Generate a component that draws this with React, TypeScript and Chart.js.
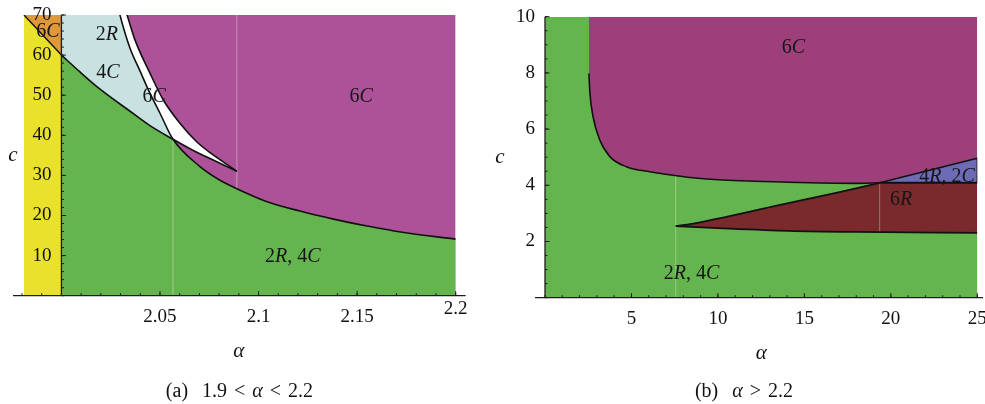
import React, { useEffect, useRef } from "react";
import { Chart, registerables } from "chart.js";

Chart.register(...registerables);

const FONT = '"Liberation Serif", "Times New Roman", serif';

// ---------- colours ----------
const C_YELLOW = "#EAE12A";
const C_ORANGE = "#E0993A";
const C_LIGHTBLUE = "#C8E2E2";
const C_GREEN = "#65B54E";
const C_PURPLE_A = "#AD5298";
const C_PURPLE_B = "#9D3F7A";
const C_DARKRED = "#7A292C";
const C_BLUE = "#6E6BB6";
const C_WHITE = "#FFFFFF";
const C_LINE = "#111111";
const C_AXIS = "#1c1c1c";
const C_SEAM = "rgba(255,255,255,0.35)";

// ---------- panel (a): 1.9 < alpha < 2.2 ----------
const aXTicks = [2.05, 2.1, 2.15, 2.2];
const aXTickLabels = ["2.05", "2.1", "2.15", "2.2"];
const aYTicks = [10, 20, 30, 40, 50, 60, 70];
const aYTickLabels = ["10", "20", "30", "40", "50", "60", "70"];

const aOrangeTop = [{ x: 1.981, y: 70 }, { x: 2.0, y: 70 }];
const aYellowTop = [{ x: 1.981, y: 70 }, { x: 2.0, y: 60 }];
const aPurpleTop = [{ x: 2.0, y: 70 }, { x: 2.2, y: 70 }];
// boundary P: white band (left edge) and then the green / 6C boundary
const aCurveP = [
  { x: 2.0, y: 95 }, { x: 2.026, y: 78 }, { x: 2.0297, y: 70 }, { x: 2.0348, y: 61.7 },
  { x: 2.0399, y: 56.0 }, { x: 2.0449, y: 50.5 }, { x: 2.05, y: 45.5 }, { x: 2.0566, y: 39.0 },
  { x: 2.0703, y: 32.2 }, { x: 2.0804, y: 28.8 }, { x: 2.0889, y: 26.7 }, { x: 2.104, y: 23.5 },
  { x: 2.121, y: 21.1 }, { x: 2.138, y: 19.1 }, { x: 2.155, y: 17.4 }, { x: 2.172, y: 15.9 },
  { x: 2.2, y: 14.1 },
];
// boundary Q: green / 4C boundary and lower edge of the white sliver
const aCurveQ = [
  { x: 2.0, y: 60 }, { x: 2.0094, y: 55.8 }, { x: 2.0196, y: 51.5 }, { x: 2.0348, y: 46.0 },
  { x: 2.0449, y: 42.4 }, { x: 2.0566, y: 39.0 }, { x: 2.0669, y: 36.2 }, { x: 2.0788, y: 33.4 },
  { x: 2.089, y: 31.0 },
];
// boundary R: right edge of the white band
const aCurveR = [
  { x: 2.028, y: 78 }, { x: 2.0333, y: 70 }, { x: 2.0373, y: 63.8 }, { x: 2.0449, y: 55.5 },
  { x: 2.0517, y: 48.8 }, { x: 2.0601, y: 43.0 }, { x: 2.0686, y: 38.4 }, { x: 2.077, y: 35.1 },
  { x: 2.0855, y: 32.2 }, { x: 2.089, y: 31.0 },
];
const aSeam1 = [{ x: 2.0566, y: 0 }, { x: 2.0566, y: 39.0 }];
const aSeam2 = [{ x: 2.089, y: 26.7 }, { x: 2.089, y: 70 }];
const aRegionLabels = [
  { text: "6C", x: 1.9932, y: 65.8 },
  { text: "2R", x: 2.0231, y: 65.0 },
  { text: "4C", x: 2.0236, y: 55.5 },
  { text: "6C", x: 2.047, y: 49.6 },
  { text: "6C", x: 2.152, y: 49.6 },
  { text: "2R, 4C", x: 2.1174, y: 9.65 },
];

// ---------- panel (b): alpha > 2.2 ----------
const bXTicks = [5, 10, 15, 20, 25];
const bXTickLabels = ["5", "10", "15", "20", "25"];
const bYTicks = [2, 4, 6, 8, 10];
const bYTickLabels = ["2", "4", "6", "8", "10"];

const bGreenTop = [{ x: 0, y: 10 }, { x: 25, y: 10 }];
const bCurveU = [
  { x: 2.54, y: 7.98 }, { x: 2.6, y: 7.27 }, { x: 2.78, y: 6.44 }, { x: 3.17, y: 5.61 },
  { x: 3.75, y: 5.02 }, { x: 4.71, y: 4.66 }, { x: 6.06, y: 4.48 }, { x: 7.6, y: 4.34 },
  { x: 8.4, y: 4.28 }, { x: 10.3, y: 4.19 }, { x: 14.1, y: 4.11 }, { x: 18.0, y: 4.07 },
  { x: 19.36, y: 4.09 },
];
const bLineW = [{ x: 19.36, y: 4.09 }, { x: 25, y: 4.96 }];
const bLineH = [{ x: 19.36, y: 4.09 }, { x: 25, y: 4.09 }];
const bCurveUp = [
  { x: 7.56, y: 2.55 }, { x: 8.5, y: 2.63 }, { x: 10.3, y: 2.85 }, { x: 13.2, y: 3.25 },
  { x: 16.9, y: 3.74 }, { x: 19.36, y: 4.09 },
];
const bCurveLo = [
  { x: 7.56, y: 2.55 }, { x: 10.3, y: 2.47 }, { x: 14.1, y: 2.38 }, { x: 18.0, y: 2.34 },
  { x: 25, y: 2.31 },
];
const bEdge = [{ x: 25, y: 4.09 }, { x: 25, y: 4.96 }];
const bSeam1 = [{ x: 7.56, y: 0 }, { x: 7.56, y: 4.34 }];
const bSeam2 = [{ x: 19.36, y: 2.31 }, { x: 19.36, y: 4.09 }];
const bRegionLabels = [
  { text: "6C", x: 14.37, y: 8.89 },
  { text: "4R, 2C", x: 23.25, y: 4.3 },
  { text: "6R", x: 20.6, y: 3.48 },
  { text: "2R, 4C", x: 8.48, y: 0.84 },
];

// ---------- dataset helpers ----------
type Pt = { x: number; y: number };

function areaDs(data: Pt[], fill: any, color: string, smooth = true) {
  return {
    data,
    fill,
    backgroundColor: color,
    borderColor: "rgba(0,0,0,0)",
    borderWidth: 0,
    pointRadius: 0,
    pointHoverRadius: 0,
    cubicInterpolationMode: smooth ? "monotone" : "default",
    tension: 0,
  };
}
function strokeDs(data: Pt[], color = C_LINE, width = 1.6, smooth = true) {
  return {
    data,
    fill: false,
    backgroundColor: "rgba(0,0,0,0)",
    borderColor: color,
    borderWidth: width,
    pointRadius: 0,
    pointHoverRadius: 0,
    cubicInterpolationMode: smooth ? "monotone" : "default",
    tension: 0,
  };
}
function ordered(list: any[]) {
  const n = list.length;
  return list.map((d, i) => ({ ...d, order: n - i }));
}

// mixed upright / italic label (letters italic, digits upright)
function drawRich(ctx: CanvasRenderingContext2D, text: string, cx: number, cy: number, size: number) {
  const runs: { t: string; it: boolean }[] = [];
  for (const ch of Array.from(text)) {
    const it = /[A-Za-z\u03b1]/.test(ch);
    const last = runs[runs.length - 1];
    if (last && last.it === it) last.t += ch;
    else runs.push({ t: ch, it });
  }
  const fontOf = (it: boolean) => `${it ? "italic " : ""}${size}px ${FONT}`;
  let total = 0;
  const widths = runs.map((r) => {
    ctx.font = fontOf(r.it);
    const w = ctx.measureText(r.t).width;
    total += w;
    return w;
  });
  let x = cx - total / 2;
  ctx.textAlign = "left";
  ctx.textBaseline = "middle";
  runs.forEach((r, i) => {
    ctx.font = fontOf(r.it);
    ctx.fillText(r.t, x, cy);
    x += widths[i];
  });
}

type DecorSpec = {
  axisAlpha: number;
  xTicks: number[];
  xLabels: string[];
  yTicks: number[];
  yLabels: string[];
  xMinor: number;
  yMinor: number;
  extL: number;
  extR: number;
  labels: { text: string; x: number; y: number }[];
  cTitleX: number;
  lastXLabelDy: number;
};

function makeDecor(spec: DecorSpec) {
  return {
    id: "decor",
    afterDatasetsDraw(chart: any) {
      const ctx: CanvasRenderingContext2D = chart.ctx;
      const area = chart.chartArea;
      const xs = chart.scales.x;
      const ys = chart.scales.y;
      const y0 = ys.getPixelForValue(0);
      const ax = xs.getPixelForValue(spec.axisAlpha);
      ctx.save();

      // region labels
      ctx.fillStyle = "#161616";
      for (const l of spec.labels) {
        drawRich(ctx, l.text, xs.getPixelForValue(l.x), ys.getPixelForValue(l.y), 20);
      }

      // axis lines
      ctx.strokeStyle = C_AXIS;
      ctx.lineWidth = 1.3;
      ctx.beginPath();
      ctx.moveTo(xs.getPixelForValue(xs.min) - spec.extL, y0);
      ctx.lineTo(xs.getPixelForValue(xs.max) + spec.extR, y0);
      ctx.stroke();
      ctx.beginPath();
      ctx.moveTo(ax, y0);
      ctx.lineTo(ax, ys.getPixelForValue(ys.max));
      ctx.stroke();

      // tick marks (drawn inward)
      ctx.lineWidth = 1;
      const nx = Math.round((xs.max - xs.min) / spec.xMinor);
      for (let i = 0; i <= nx; i++) {
        const px = xs.getPixelForValue(xs.min + i * spec.xMinor);
        ctx.beginPath();
        ctx.moveTo(px, y0);
        ctx.lineTo(px, y0 - 2.5);
        ctx.stroke();
      }
      for (const v of spec.xTicks) {
        const px = xs.getPixelForValue(v);
        ctx.beginPath();
        ctx.moveTo(px, y0);
        ctx.lineTo(px, y0 - 4.5);
        ctx.stroke();
      }
      const ny = Math.round((ys.max - ys.min) / spec.yMinor);
      for (let i = 0; i <= ny; i++) {
        const py = ys.getPixelForValue(ys.min + i * spec.yMinor);
        ctx.beginPath();
        ctx.moveTo(ax, py);
        ctx.lineTo(ax + 2.5, py);
        ctx.stroke();
      }
      for (const v of spec.yTicks) {
        const py = ys.getPixelForValue(v);
        ctx.beginPath();
        ctx.moveTo(ax, py);
        ctx.lineTo(ax + 4.5, py);
        ctx.stroke();
      }

      // tick labels
      ctx.fillStyle = "#111";
      ctx.font = `19px ${FONT}`;
      ctx.textAlign = "center";
      ctx.textBaseline = "middle";
      spec.xTicks.forEach((v, i) => {
        const dy = i === spec.xTicks.length - 1 ? spec.lastXLabelDy : 0;
        ctx.fillText(spec.xLabels[i], xs.getPixelForValue(v), y0 + 21 + dy);
      });
      ctx.textAlign = "right";
      spec.yTicks.forEach((v, i) => {
        ctx.fillText(spec.yLabels[i], ax - 10, ys.getPixelForValue(v));
      });

      // axis titles
      ctx.font = `italic 21px ${FONT}`;
      ctx.textAlign = "center";
      ctx.fillText("c", spec.cTitleX, (area.top + area.bottom) / 2);
      ctx.fillText("\u03b1", (area.left + area.right) / 2, area.bottom + 56);

      ctx.restore();
    },
  };
}

function configA() {
  // indices: 0 purple bg, 1 R->P white, 2 Q green, 3 P green, 4 P<->Q light blue / purple
  const datasets = ordered([
    areaDs(aPurpleTop, "origin", C_PURPLE_A, false),
    areaDs(aCurveR, { target: 3, above: C_WHITE, below: C_WHITE }, C_WHITE),
    areaDs(aCurveQ, "origin", C_GREEN),
    areaDs(aCurveP, "origin", C_GREEN),
    areaDs(aCurveP, { target: 2, above: C_LIGHTBLUE, below: C_PURPLE_A }, C_LIGHTBLUE),
    areaDs(aOrangeTop, "origin", C_ORANGE, false),
    areaDs(aYellowTop, "origin", C_YELLOW, false),
    strokeDs(aSeam1, C_SEAM, 1, false),
    strokeDs(aSeam2, C_SEAM, 1, false),
    strokeDs(aCurveP),
    strokeDs(aCurveQ),
    strokeDs(aCurveR),
    strokeDs(aYellowTop, C_LINE, 1.4, false),
  ]);
  return {
    type: "line" as const,
    data: { datasets },
    options: {
      animation: false,
      responsive: false,
      maintainAspectRatio: false,
      events: [],
      layout: { padding: { left: 22, top: 15, right: 34.3, bottom: 108.3 }, autoPadding: false },
      scales: {
        x: { type: "linear", min: 1.98, max: 2.2, display: false },
        y: { type: "linear", min: 0, max: 70, display: false },
      },
      plugins: { legend: { display: false }, tooltip: { enabled: false } },
    },
    plugins: [
      makeDecor({
        axisAlpha: 2.0,
        xTicks: aXTicks,
        xLabels: aXTickLabels,
        yTicks: aYTicks,
        yLabels: aYTickLabels,
        xMinor: 0.01,
        yMinor: 2,
        extL: 9,
        extR: 10,
        labels: aRegionLabels,
        cTitleX: 13,
        lastXLabelDy: -8,
      }),
    ],
  };
}

function configB() {
  // purple fill: boundary U continued along the wedge line W (blue is painted over the gap)
  const uFill = [...bCurveU, bLineW[1]];
  const datasets = ordered([
    areaDs(bGreenTop, "origin", C_GREEN, false),
    areaDs(uFill, "end", C_PURPLE_B),
    areaDs(bLineW, "origin", C_BLUE, false),
    areaDs(bCurveUp, "origin", C_DARKRED),
    areaDs(bLineH, "origin", C_DARKRED, false),
    areaDs(bCurveLo, "origin", C_GREEN),
    strokeDs(bSeam1, C_SEAM, 1, false),
    strokeDs(bSeam2, "rgba(255,255,255,0.18)", 1, false),
    strokeDs(bCurveU),
    strokeDs(bLineW, C_LINE, 1.6, false),
    strokeDs(bLineH, C_LINE, 1.8, false),
    strokeDs(bCurveUp, C_LINE, 1.8),
    strokeDs(bCurveLo, C_LINE, 1.8),
    strokeDs(bEdge, C_LINE, 1.4, false),
  ]);
  return {
    type: "line" as const,
    data: { datasets },
    options: {
      animation: false,
      responsive: false,
      maintainAspectRatio: false,
      events: [],
      layout: { padding: { left: 55, top: 16.7, right: 7.7, bottom: 106.3 }, autoPadding: false },
      scales: {
        x: { type: "linear", min: 0, max: 25, display: false },
        y: { type: "linear", min: 0, max: 10, display: false },
      },
      plugins: { legend: { display: false }, tooltip: { enabled: false } },
    },
    plugins: [
      makeDecor({
        axisAlpha: 0,
        xTicks: bXTicks,
        xLabels: bXTickLabels,
        yTicks: bYTicks,
        yLabels: bYTickLabels,
        xMinor: 1,
        yMinor: 0.5,
        extL: 10,
        extR: 5.7,
        labels: bRegionLabels,
        cTitleX: 10,
        lastXLabelDy: 0,
      }),
    ],
  };
}

function Panel(props: { make: () => any; left: number; width: number }) {
  const ref = useRef<HTMLCanvasElement | null>(null);
  useEffect(() => {
    if (!ref.current) return;
    const chart = new Chart(ref.current, props.make());
    return () => chart.destroy();
  }, []);
  return (
    <canvas
      ref={ref}
      width={props.width}
      height={404}
      style={{ position: "absolute", left: props.left, top: 0, width: props.width, height: 404 }}
    />
  );
}

const captionStyle: React.CSSProperties = {
  position: "absolute",
  top: 380,
  width: 240,
  textAlign: "center",
  fontFamily: FONT,
  fontSize: 20,
  lineHeight: "20px",
  whiteSpace: "pre",
  wordSpacing: 2,
  color: "#111",
};

export default function App() {
  return (
    <div
      style={{
        position: "absolute",
        left: 0,
        top: 0,
        width: 985,
        height: 404,
        overflow: "hidden",
        background: "#fff",
      }}
    >
      <Panel make={configA} left={0} width={490} />
      <Panel make={configB} left={490} width={495} />
      <div style={{ ...captionStyle, left: 239.5 - 120 }}>
        {"(a)  1.9 < "}
        <i>{"\u03b1"}</i>
        {" < 2.2"}
      </div>
      <div style={{ ...captionStyle, left: 744 - 120 }}>
        {"(b)  "}
        <i>{"\u03b1"}</i>
        {" > 2.2"}
      </div>
    </div>
  );
}
